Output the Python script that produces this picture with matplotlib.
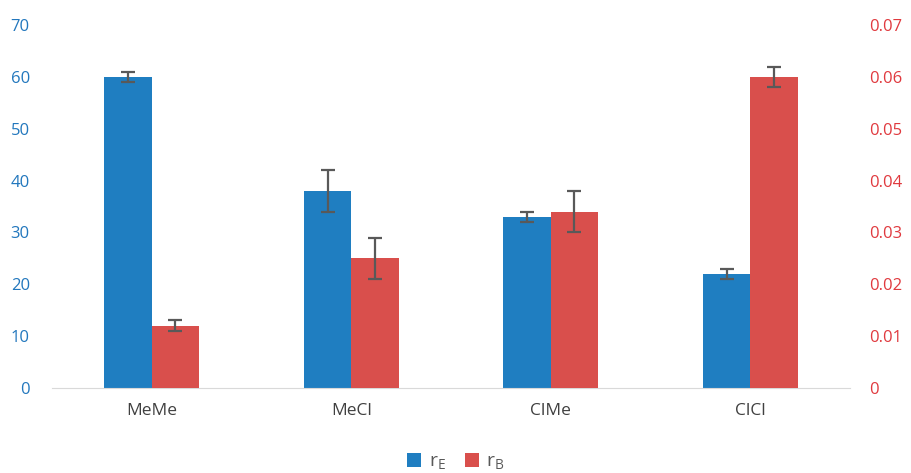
import matplotlib.pyplot as plt
import numpy as np

plt.rcParams['font.family'] = ['Open Sans', 'DejaVu Sans']

# data
categories = ['MeMe', 'MeCl', 'ClMe', 'ClCl']
r_e = [60, 38, 33, 22]
r_e_err = [1, 4, 1, 1]
r_b = [0.012, 0.025, 0.034, 0.060]
r_b_err = [0.001, 0.004, 0.004, 0.002]

blue = '#1f7ec1'
red = '#d94f4c'
blue_txt = '#2277bd'
red_txt = '#e0393e'

fig = plt.figure(figsize=(9.12, 4.73), dpi=100)
ax = fig.add_axes([0.057, 0.18, 0.875, 0.767])
ax2 = ax.twinx()

x = np.arange(len(categories))
w = 0.237
err_kw = dict(ecolor='#595959', capsize=5, elinewidth=1.6, capthick=1.6)

b1 = ax.bar(x - w / 2, r_e, w, color=blue, yerr=r_e_err, error_kw=err_kw,
            label=r'r$_\mathregular{E}$')
b2 = ax2.bar(x + w / 2, r_b, w, color=red, yerr=r_b_err, error_kw=err_kw,
             label=r'r$_\mathregular{B}$')

ax.set_xlim(-0.5, 3.5)
ax.set_ylim(0, 70)
ax2.set_ylim(0, 0.07)
ax.set_yticks(np.arange(0, 71, 10))
ax2.set_yticks(np.arange(0, 0.071, 0.01))
ax2.set_yticklabels(['0'] + ['%.2f' % v for v in np.arange(0.01, 0.071, 0.01)])
ax.set_xticks(x)
ax.set_xticklabels(categories)

for a in (ax, ax2):
    for s in a.spines.values():
        s.set_visible(False)
ax.spines['bottom'].set_visible(True)
ax.spines['bottom'].set_color('#d9d9d9')

ax.tick_params(axis='y', length=0, labelcolor=blue_txt, labelsize=12, pad=16)
ax2.tick_params(axis='y', length=0, labelcolor=red_txt, labelsize=12, pad=14)
ax.tick_params(axis='x', length=0, labelsize=12.5, labelcolor='#404040', pad=11)

fig.legend(handles=[b1, b2], loc='lower center', ncol=2, frameon=False,
           bbox_to_anchor=(0.5, -0.035), fontsize=14, handlelength=0.7,
           handleheight=0.7, handletextpad=0.4, columnspacing=1.0,
           labelcolor='#595959')

fig.savefig('out.png', dpi=100)
